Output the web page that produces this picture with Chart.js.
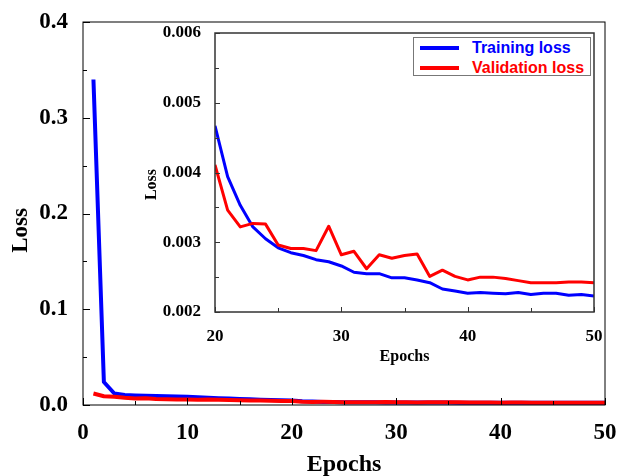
<!DOCTYPE html>
<html>
<head>
<meta charset="utf-8">
<title>Loss curves</title>
<script src="https://cdn.jsdelivr.net/npm/chart.js@4.4.0/dist/chart.umd.min.js"></script>
<style>
  body { margin: 0; background: #fff; overflow: hidden; }
  #wrap { position: relative; width: 618px; height: 476px; }
  #main { position: absolute; left: 0; top: 0; }
  #inset { position: absolute; left: 140px; top: 24px; background: #fff; }
  #legend {
    position: absolute; left: 413px; top: 37px; width: 178px; height: 39px;
    box-sizing: border-box; border: 1px solid #777; background: #fff;
    font: bold 16px "Liberation Sans", Arial, sans-serif;
  }
  #legend .row { display: flex; align-items: center; height: 20px; padding-left: 6px; }
  #legend .swatch { width: 39px; height: 4px; margin-right: 13px; }
</style>
</head>
<body>
<div id="wrap">
  <canvas id="main" width="618" height="476"></canvas>
  <canvas id="inset" width="463" height="346"></canvas>
  <div id="legend"></div>
</div>
<script>
// epochs and per-epoch losses
const epochs = [1, 2, 3, 4, 5, 6, 7, 8, 9, 10, 11, 12, 13, 14, 15, 16, 17, 18, 19, 20,
  21, 22, 23, 24, 25, 26, 27, 28, 29, 30, 31, 32, 33, 34, 35, 36, 37, 38, 39, 40,
  41, 42, 43, 44, 45, 46, 47, 48, 49, 50]
const trainLoss = [0.340, 0.024, 0.0120, 0.0105, 0.0100, 0.0097, 0.0094, 0.0092, 0.0088, 0.0085,
  0.0080, 0.0075, 0.0071, 0.0067, 0.0063, 0.0059, 0.0055, 0.0052, 0.0049, 0.00467,
  0.00394, 0.00353, 0.00322, 0.00305, 0.00292, 0.00285, 0.00281, 0.00275, 0.00272, 0.00266,
  0.00257, 0.00255, 0.00255, 0.00249, 0.00249, 0.00246, 0.00242, 0.00233, 0.00230, 0.00227,
  0.00228, 0.00227, 0.00226, 0.00228, 0.00225, 0.00227, 0.00227, 0.00224, 0.00225, 0.00223]
const valLoss = [0.0120, 0.0092, 0.0085, 0.0075, 0.0068, 0.0070, 0.0062, 0.0061, 0.0058, 0.0057,
  0.0054, 0.0058, 0.0054, 0.0052, 0.0050, 0.0048, 0.0046, 0.0044, 0.0043, 0.00411,
  0.00346, 0.00322, 0.00327, 0.00326, 0.00296, 0.00291, 0.00291, 0.00288, 0.00323, 0.00282,
  0.00287, 0.00262, 0.00282, 0.00277, 0.00281, 0.00283, 0.00251, 0.00260, 0.00251, 0.00246,
  0.00250, 0.00250, 0.00248, 0.00245, 0.00242, 0.00242, 0.00242, 0.00243, 0.00243, 0.00242]

const mainXTicks = [0, 10, 20, 30, 40, 50]
const mainYTicks = [0.0, 0.1, 0.2, 0.3, 0.4]
const insetXTicks = [20, 30, 40, 50]
const insetYTicks = [0.002, 0.003, 0.004, 0.005, 0.006]
const insetFrom = 20  // zoomed view starts at this epoch

const series = [
  { label: 'Training loss', values: trainLoss, color: '#0000ff', order: 1 },
  { label: 'Validation loss', values: valLoss, color: '#ff0000', order: 0 },
]

const serif = '"Liberation Serif", "Times New Roman", serif'

//=============== frame + inward tick marks (major and half-step minor) ===============
const boxTicks = {
  id: 'boxTicks',
  afterDatasetsDraw(chart, args, o) {
    const { ctx, chartArea: a, scales: { x, y } } = chart
    ctx.save()
    ctx.strokeStyle = o.color
    ctx.lineWidth = o.frame
    ctx.strokeRect(a.left, a.top, a.right - a.left, a.bottom - a.top)
    ctx.lineWidth = 1
    ctx.beginPath()
    const marks = (ticks) => {
      let out = []
      ticks.forEach((t, i) => {
        out.push([t, true])
        if (i < ticks.length - 1) out.push([(t + ticks[i + 1]) / 2, false])
      })
      return out
    }
    marks(o.xTicks).forEach(([v, major]) => {
      const px = Math.round(x.getPixelForValue(v)) + 0.5
      ctx.moveTo(px, a.bottom)
      ctx.lineTo(px, a.bottom - (major ? o.major : o.minor))
    })
    marks(o.yTicks).forEach(([v, major]) => {
      const py = Math.round(y.getPixelForValue(v)) + 0.5
      ctx.moveTo(a.left, py)
      ctx.lineTo(a.left + (major ? o.major : o.minor), py)
    })
    ctx.stroke()

    // rotated y title, sitting a little below the axis middle
    const t = o.yTitle
    ctx.fillStyle = '#000'
    ctx.font = `bold ${t.size}px ${serif}`
    ctx.textAlign = 'center'
    ctx.textBaseline = 'middle'
    ctx.translate(t.x, (a.top + a.bottom) / 2 + t.shift)
    ctx.rotate(-Math.PI / 2)
    ctx.fillText(t.text, 0, 0)
    ctx.restore()
  }
}

const makeDatasets = (from, width) => series.map(s => ({
  label: s.label,
  data: epochs.map((e, i) => ({ x: e, y: s.values[i] })).filter(p => p.x >= from),
  borderColor: s.color,
  backgroundColor: s.color,
  borderWidth: width,
  borderJoinStyle: 'round',
  pointRadius: 0,
  tension: 0,
  order: s.order,
}))

const axis = (ticks, fmt, size, pad, fit) => ({
  type: 'linear',
  min: ticks[0],
  max: ticks[ticks.length - 1],
  afterBuildTicks: (s) => { s.ticks = ticks.map(v => ({ value: v })) },
  afterFit: (s) => {
    fit(s)
    // the layout padding already leaves room for the end labels
    s.paddingLeft = s.paddingRight = s.paddingTop = s.paddingBottom = 0
  },
  grid: { display: false },
  border: { display: false },
  ticks: {
    color: '#000',
    padding: pad,
    maxRotation: 0,
    autoSkip: false,
    font: { family: serif, size: size, weight: 'bold' },
    callback: fmt,
  },
})

//=============== MAIN CHART ===============
const mainX = axis(mainXTicks, v => String(v), 23, 6, s => { s.height = 71 })
mainX.title = { display: true, text: 'Epochs', color: '#000', padding: { top: 0, bottom: 0 },
  font: { family: serif, size: 24, weight: 'bold', lineHeight: 0.9 } }
const mainY = axis(mainYTicks, v => v.toFixed(1), 23, 7, s => { s.width = 83 })

new Chart(document.querySelector('#main'), {
  type: 'line',
  data: { datasets: makeDatasets(0, 4) },
  options: {
    responsive: false,
    animation: false,
    layout: { padding: { top: 22, right: 13, left: 0, bottom: 0 } },
    scales: { x: mainX, y: mainY },
    plugins: {
      legend: { display: false },
      tooltip: { enabled: false },
      boxTicks: { color: '#000', frame: 1, major: 7, minor: 4, xTicks: mainXTicks, yTicks: mainYTicks,
        yTitle: { text: 'Loss', size: 23, x: 21, shift: 17 } },
    },
  },
  plugins: [boxTicks],
})

//=============== INSET (zoom on the tail) ===============
const insetX = axis(insetXTicks, v => String(v), 17, 6, s => { s.height = 58 })
insetX.title = { display: true, text: 'Epochs', color: '#000', padding: { top: 0, bottom: 4 },
  font: { family: serif, size: 16, weight: 'bold', lineHeight: 1.2 } }
const insetY = axis(insetYTicks, v => v.toFixed(3), 17, 6, s => { s.width = 75 })

new Chart(document.querySelector('#inset'), {
  type: 'line',
  data: { datasets: makeDatasets(insetFrom, 3) },
  options: {
    responsive: false,
    animation: false,
    layout: { padding: { top: 9, right: 9, left: 0, bottom: 0 } },
    scales: { x: insetX, y: insetY },
    plugins: {
      legend: { display: false },
      tooltip: { enabled: false },
      boxTicks: { color: '#333', frame: 1.5, major: 5, minor: 4, xTicks: insetXTicks, yTicks: insetYTicks,
        yTitle: { text: 'Loss', size: 16, x: 12, shift: 12 } },
    },
  },
  plugins: [boxTicks],
})

//=============== legend box ===============
const legend = document.querySelector('#legend')
legend.innerHTML = ''
series.forEach(s => {
  legend.innerHTML += `
    <div class="row" style="color:${s.color}">
      <span class="swatch" style="background:${s.color}"></span>${s.label}
    </div>`
})
</script>
</body>
</html>
